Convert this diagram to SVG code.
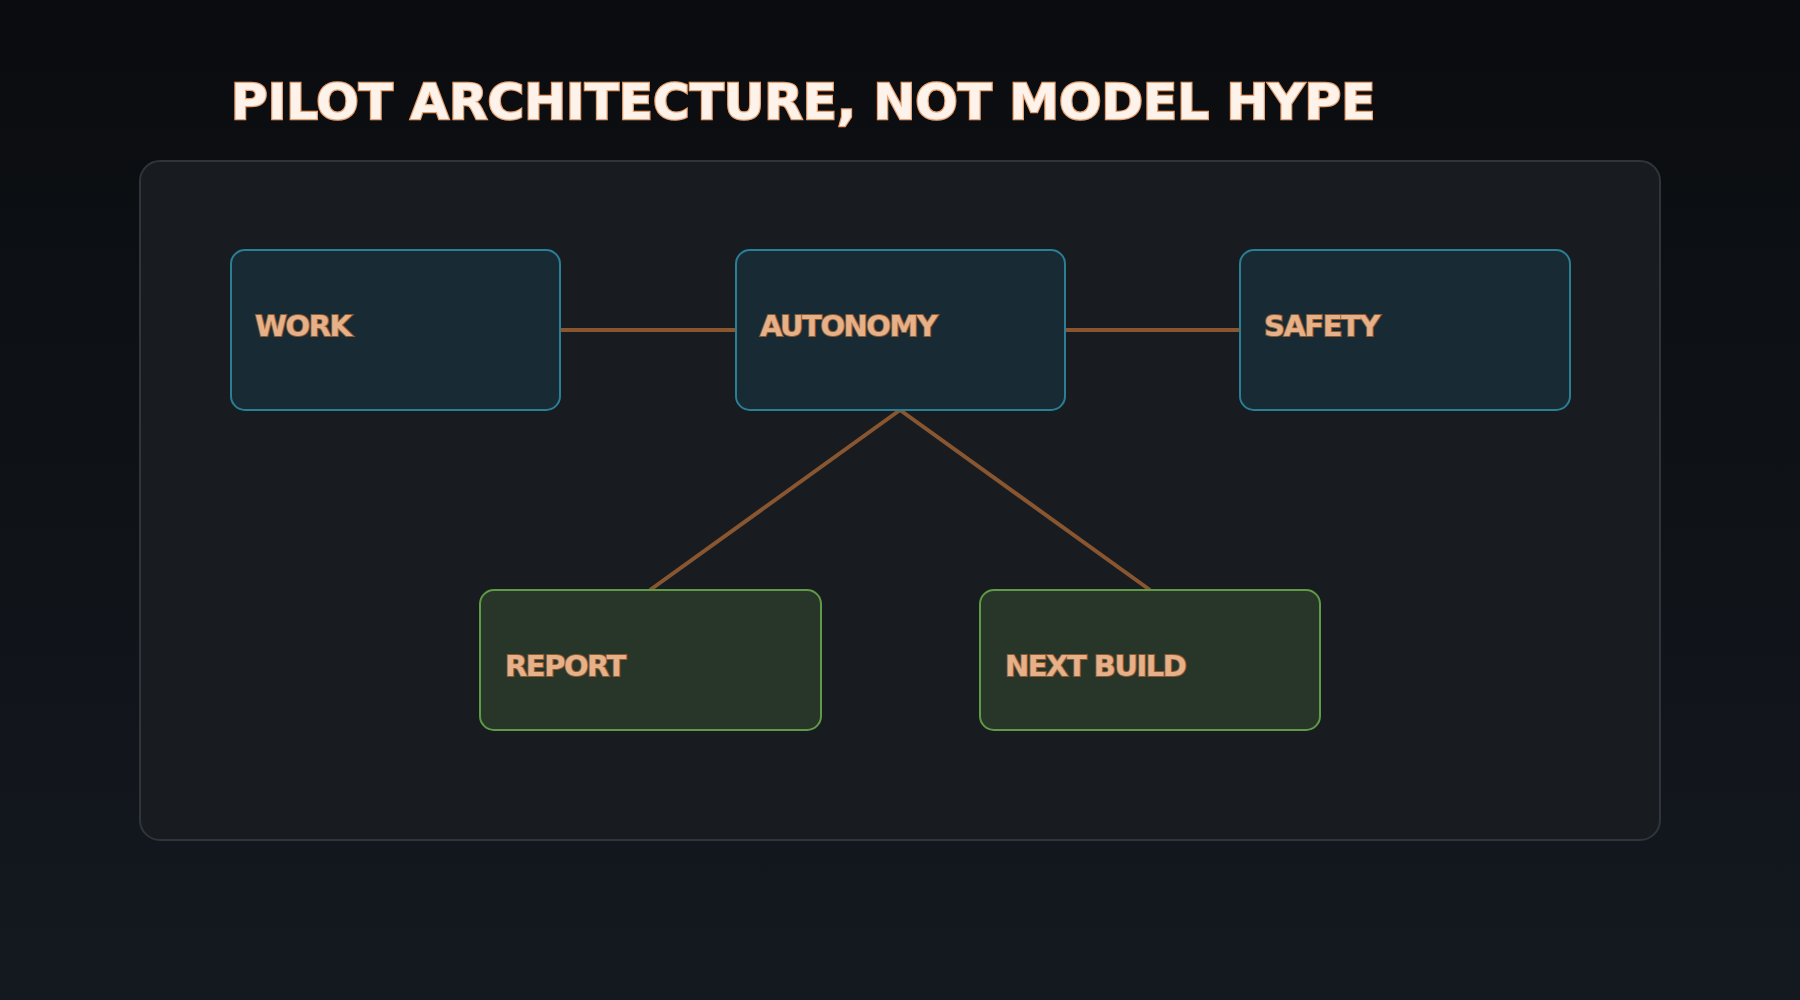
<svg xmlns="http://www.w3.org/2000/svg" width="1800" height="1000" viewBox="0 0 1800 1000">
<defs>
<linearGradient id="bg" x1="0" y1="0" x2="0" y2="1"><stop offset="0" stop-color="#0a0c0f"/><stop offset="1" stop-color="#141920"/></linearGradient>
<style>
.title{font-family:"DejaVu Sans",sans-serif;font-weight:bold;font-size:50px;fill:#fdf3ea;stroke:#e8a070;stroke-width:2.5;paint-order:stroke}
.lbl{font-family:"DejaVu Sans",sans-serif;font-weight:bold;font-size:29px;fill:#e6b088;stroke:#8a5a35;stroke-width:2;paint-order:stroke;letter-spacing:-1.5px}
.blue{fill:#182a33;stroke:#2a7f95;stroke-width:2}
.green{fill:#28362a;stroke:#5f9a45;stroke-width:2}
.edge{stroke:#8a5630;stroke-width:4;fill:none}
</style>
</defs>
<rect width="1800" height="1000" fill="url(#bg)"/>
<text class="title" x="231" y="119">PILOT ARCHITECTURE, NOT MODEL HYPE</text>
<rect x="140" y="161" width="1520" height="679" rx="20" fill="#181c21" stroke="#30353b" stroke-width="2"/>
<g id="connectors">
<line class="edge" x1="560" y1="330" x2="736" y2="330"/>
<line class="edge" x1="1065" y1="330" x2="1240" y2="330"/>
<line class="edge" x1="900" y1="410" x2="650" y2="590"/>
<line class="edge" x1="900" y1="410" x2="1150" y2="590"/>
</g>
<g id="work"><rect class="blue" x="231" y="250" width="329" height="160" rx="14"/><text class="lbl" x="255" y="336">WORK</text></g>
<g id="autonomy"><rect class="blue" x="736" y="250" width="329" height="160" rx="14"/><text class="lbl" x="760" y="336">AUTONOMY</text></g>
<g id="safety"><rect class="blue" x="1240" y="250" width="330" height="160" rx="14"/><text class="lbl" x="1264" y="336">SAFETY</text></g>
<g id="report"><rect class="green" x="480" y="590" width="341" height="140" rx="14"/><text class="lbl" x="505" y="676">REPORT</text></g>
<g id="nextbuild"><rect class="green" x="980" y="590" width="340" height="140" rx="14"/><text class="lbl" x="1005" y="676">NEXT BUILD</text></g>
</svg>
